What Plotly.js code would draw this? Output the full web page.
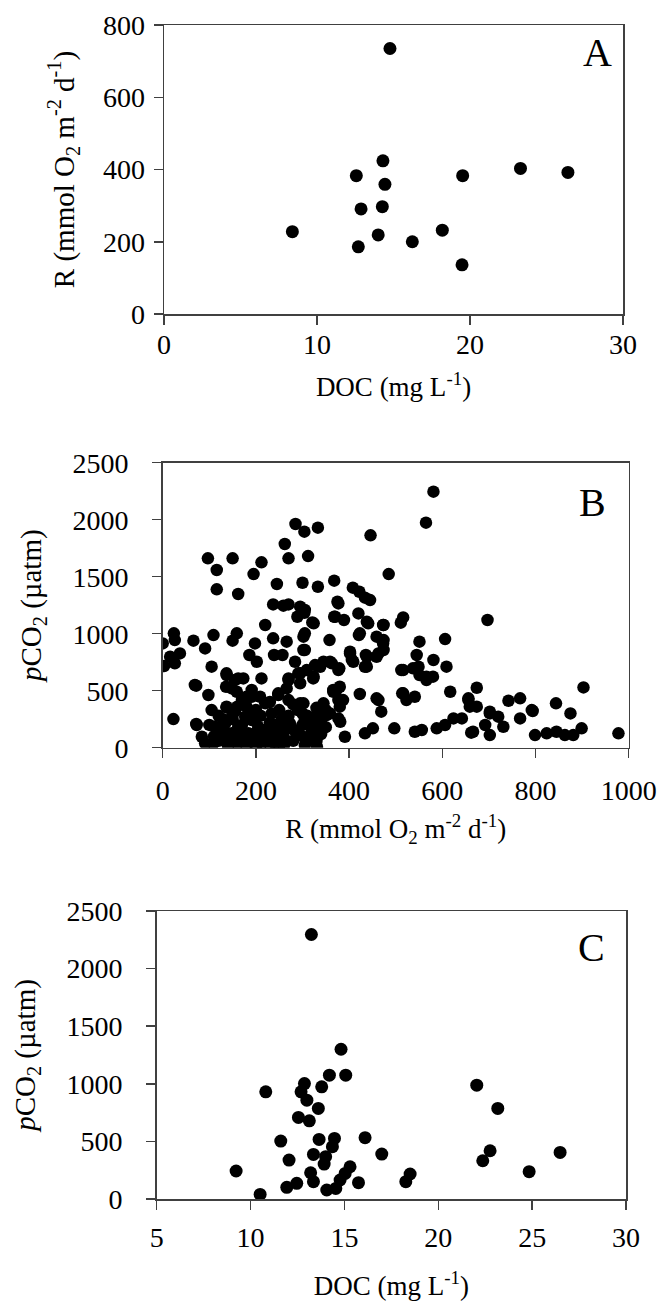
<!DOCTYPE html>
<html>
<head>
<meta charset="utf-8">
<script src="https://cdn.plot.ly/plotly-3.0.1.min.js"></script>
<style>html,body{margin:0;padding:0;background:#fff;}#chart{width:660px;height:1310px;}</style>
</head>
<body>
<div id="chart"></div>
<script>
// Panel A: DOC (mg/L) vs R (mmol O2 m-2 d-1)
const docA  = [14.77, 8.39, 12.57, 12.7, 12.88, 14.31, 14.44, 14.27, 14.0, 16.23, 18.19, 19.52, 19.48, 23.3, 26.4];
const respA = [735, 228, 383, 186, 291, 424, 359, 297, 219, 200, 232, 383, 136, 403, 392];

// Panel B: R vs pCO2
const respB = [581,565,285,304,333,446,262,97,150,270,312,116,212,195,485,116,162,245,300,333,368,408,422,434,237,259,270,295,289,304,321,375,368,389,420,441,421,474,516,511,697,220,109,66,24,0,26,37,16,3,26,91,159,150,198,186,202,237,266,239,257,302,302,358,284,295,327,345,363,379,402,409,436,438,459,474,474,551,606,545,549,581,609,516,566,105,137,162,212,270,323,72,98,136,159,180,209,248,266,366,380,377,423,463,469,514,523,541,617,674,656,674,702,720,742,767,767,794,844,903,875,23,72,105,137,295,345,359,331,381,391,434,451,497,541,556,588,606,624,642,662,692,702,731,799,824,845,863,881,899,978,305,331,
69,73,137,91,109,112,134,148,162,177,191,198,212,220,234,241,255,127,170,191,220,248,270,273,291,313,137,155,173,270,291,148,191,155,177,119,84,227,184,205,
120,140,160,180,200,230,250,260,280,300,320,340,350,150,170,190,210,230,250,270,290,310,330,120,100,130,240,260,200,160,
305,327,352,377,380,387,366,302,459,516,656,324,338,359,377,406,402,434,438,463,473,473,459,423,438,445,377,370,512,537,551,566,580,305,305,324,305,309,373,295,
792,702,659,666,
110,130,150,170,190,210,220,240,260,280,300,320,340,180,230,280,300,330,200,240,160,350,260,150];
const pco2B = [2246,1974,1962,1895,1930,1863,1787,1661,1661,1661,1681,1559,1626,1523,1523,1389,1348,1436,1447,1412,1465,1404,1368,1316,1257,1246,1257,1237,1149,1184,1099,1281,1149,1120,1178,1091,988,1076,1143,1097,1120,1076,988,939,1003,915,944,827,798,716,740,871,1003,939,915,813,754,959,930,813,813,974,857,944,754,652,725,754,740,696,827,754,813,711,798,944,857,930,953,813,711,769,711,681,623,711,652,608,608,608,608,544,462,535,491,447,447,462,520,491,535,418,471,418,316,477,418,447,491,526,433,360,301,272,412,433,257,322,389,529,301,251,208,330,354,389,389,301,287,228,96,126,170,170,140,155,170,199,257,257,132,199,111,184,111,126,140,111,111,170,126,23,9,
550,199,360,38,38,184,213,126,184,67,243,126,38,155,301,96,243,96,418,447,389,477,418,213,126,67,637,594,608,594,652,520,506,316,272,126,96,96,126,184,
60,20,40,20,60,30,20,150,60,200,150,250,180,250,140,80,280,220,330,280,330,280,350,280,200,160,140,90,330,360,
243,184,287,257,360,418,506,389,433,477,418,623,710,754,681,769,842,710,798,827,915,1076,974,1003,1105,1295,1266,1149,681,696,637,594,623,1003,857,1091,1208,681,506,565,
330,316,360,140,
100,250,80,200,300,130,60,200,250,160,100,220,120,360,400,380,300,60,10,40,120,330,20,300];

// Panel C: DOC vs pCO2
const docC  = [13.24,14.82,14.2,15.07,10.81,12.87,12.69,13.79,13.0,13.61,12.55,13.13,11.61,13.65,14.47,14.36,16.1,13.35,14.0,13.92,12.05,16.99,9.23,13.2,13.35,15.3,15.04,14.77,15.75,12.46,11.93,10.51,14.06,14.54,18.5,18.27,22.05,23.17,22.76,22.37,24.84,26.49];
const pco2C = [2296,1300,1075,1075,930,1002,930,974,858,786,708,679,503,517,526,454,532,387,367,303,338,390,243,228,150,280,222,165,142,136,101,40,78,92,217,150,988,786,419,332,237,404];

const FONT = 'Liberation Serif, "Times New Roman", Times, serif';
const marker = {color: '#000', size: 13, line: {width: 0}};

function axis(extra) {
  return Object.assign({
    showline: true, linecolor: '#404040', linewidth: 1.5, mirror: true,
    ticks: 'outside', ticklen: 9, tickwidth: 1.5, tickcolor: '#404040',
    showgrid: false, zeroline: false, automargin: false,
    tickfont: {family: FONT, size: 28, color: '#000'}
  }, extra);
}
function ttl(text, standoff, size) {
  return {text: text, standoff: standoff, font: {family: FONT, size: size, color: '#000'}};
}

const data = [
  {type: 'scatter', mode: 'markers', x: docA, y: respA, xaxis: 'x', yaxis: 'y', marker: marker, hoverinfo: 'skip'},
  {type: 'scatter', mode: 'markers', x: respB, y: pco2B, xaxis: 'x2', yaxis: 'y2', marker: Object.assign({}, marker, {size: 12.5}), hoverinfo: 'skip'},
  {type: 'scatter', mode: 'markers', x: docC, y: pco2C, xaxis: 'x3', yaxis: 'y3', marker: marker, hoverinfo: 'skip'}
];

const W = 660, H = 1310;
function dx(a, b) { return [a / W, b / W]; }
function dy(top, bottom) { return [1 - bottom / H, 1 - top / H]; }

const layout = {
  width: W, height: H,
  margin: {l: 0, r: 0, t: 0, b: 0},
  paper_bgcolor: '#fff', plot_bgcolor: '#fff',
  showlegend: false,
  font: {family: FONT, color: '#000'},
  xaxis: axis({domain: dx(164, 623), range: [0, 30], dtick: 10, tick0: 0, anchor: 'y',
    ticklabelstandoff: -4,
    title: ttl('DOC (mg L<sup>-1</sup>)', 18, 27)}),
  yaxis: axis({domain: dy(25, 314), range: [0, 800], dtick: 200, tick0: 0, anchor: 'x',
    ticklabelstandoff: 3,
    title: ttl('R (mmol O<sub>2</sub> m<sup>-2</sup> d<sup>-1</sup>)', 20, 29)}),
  xaxis2: axis({domain: dx(162.7, 628.7), range: [0, 1000], dtick: 200, tick0: 0, anchor: 'y2',
    ticklabelstandoff: 8,
    title: ttl('R (mmol O<sub>2</sub> m<sup>-2</sup> d<sup>-1</sup>)', 14, 27)}),
  yaxis2: axis({domain: dy(462.7, 747.7), range: [0, 2500], dtick: 500, tick0: 0, anchor: 'x2',
    ticklabelstandoff: 18,
    title: ttl('<i>p</i>CO<sub>2</sub> (µatm)', 22, 29)}),
  xaxis3: axis({domain: dx(156.7, 626), range: [5, 30], dtick: 5, tick0: 5, anchor: 'y3',
    ticklabelstandoff: 4,
    title: ttl('DOC (mg L<sup>-1</sup>)', 24, 27)}),
  yaxis3: axis({domain: dy(911, 1199), range: [0, 2500], dtick: 500, tick0: 0, anchor: 'x3',
    ticklabelstandoff: 18,
    title: ttl('<i>p</i>CO<sub>2</sub> (µatm)', 22, 29)}),
  annotations: [
    {text: 'A', xref: 'paper', yref: 'paper', x: 597 / W, y: 1 - 52 / H, showarrow: false,
     xanchor: 'center', yanchor: 'middle', font: {family: FONT, size: 40, color: '#000'}},
    {text: 'B', xref: 'paper', yref: 'paper', x: 592 / W, y: 1 - 502 / H, showarrow: false,
     xanchor: 'center', yanchor: 'middle', font: {family: FONT, size: 40, color: '#000'}},
    {text: 'C', xref: 'paper', yref: 'paper', x: 591 / W, y: 1 - 947 / H, showarrow: false,
     xanchor: 'center', yanchor: 'middle', font: {family: FONT, size: 40, color: '#000'}}
  ]
};

Plotly.newPlot('chart', data, layout, {staticPlot: true, displayModeBar: false});
</script>
</body>
</html>
